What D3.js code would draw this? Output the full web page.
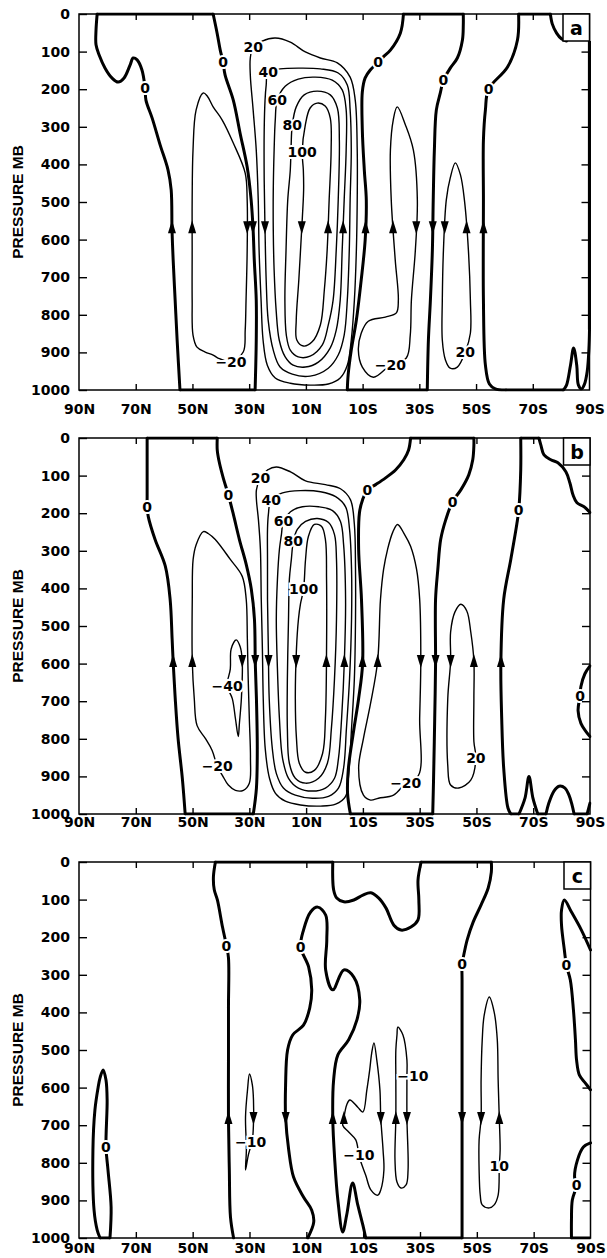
<!DOCTYPE html>
<html><head><meta charset="utf-8">
<script src="https://cdn.jsdelivr.net/npm/d3@7"></script>
<style>body{margin:0;background:#fff}</style></head>
<body><svg id="chart" width="607" height="1258"></svg>
<script>
// ---------------- data ----------------
const latTicks = [90,70,50,30,10,-10,-30,-50,-70,-90];
const latLabels = ["90N","70N","50N","30N","10N","10S","30S","50S","70S","90S"];
const pTicks = [0,100,200,300,400,500,600,700,800,900,1000];
const panelNames = ["a","b","c"];

// contours: level, closed, points [lat, pressure]
const contoursA = [
 {level:0, closed:false, pts:[[83.6,0],[84,43],[84,82],[82.9,109],[80.8,144],[78.4,170],[76.2,181],[74.1,170],[72,136],[70.9,117],[69.5,122],[67.8,149],[66.7,197],[66.4,229],[64.2,277],[61.4,348],[58.6,415],[57.5,468],[57.2,575],[56.8,654],[56.1,761],[55.4,867],[54.4,1000]]},
 {level:0, closed:false, pts:[[27.9,1000],[27.5,867],[27.5,761],[28.2,654],[28.6,575],[29.3,495],[30.7,407],[33.2,317],[35.6,229],[38.5,162],[39.2,128],[40.2,96],[41.3,51],[42.7,0]]},
 {level:0, closed:false, pts:[[-24.4,0],[-23.3,51],[-19.8,96],[-17.3,114],[-15.5,128],[-12.7,149],[-10.9,170],[-9.9,207],[-9.9,309],[-10.6,415],[-11.3,495],[-10.9,601],[-9.5,708],[-7.8,814],[-6,894],[-4.9,960],[-4.6,1000]]},
 {level:0, closed:false, pts:[[-32.8,1000],[-33.2,867],[-33.9,761],[-34.6,628],[-34.9,495],[-35.3,362],[-36,255],[-37.4,210],[-38.5,176],[-40.9,144],[-43.4,117],[-45.2,69],[-45.5,29],[-45.5,0]]},
 {level:0, closed:false, pts:[[-65,0],[-64.6,69],[-61.1,141],[-54.4,200],[-53.3,255],[-52.6,335],[-52.6,495],[-52.6,761],[-53.3,934],[-54.7,984],[-56.8,997],[-60.4,1000]]},
 {level:0, closed:false, pts:[[-80.8,1000],[-81.9,987],[-83.3,934],[-84.4,888],[-85.5,934],[-86.1,987],[-87.2,997],[-88.2,985],[-89.2,950],[-89.8,890],[-90,840]]},
 {level:0, closed:false, pts:[[-76.2,0],[-76.9,27],[-78.4,51],[-80.1,66],[-81.9,72]]},
 {level:-20, closed:true, pts:[[46.2,210],[48.7,255],[49.8,362],[50.1,495],[50.1,628],[50.1,761],[49.8,854],[48.4,886],[45.5,899],[42.7,907],[41,915],[36.4,925],[32.1,899],[31.4,841],[31.1,761],[30.7,628],[30.7,495],[31.4,423],[35.6,343],[39.5,282],[42.7,247],[44.8,218]]},
 {level:20, closed:true, pts:[[28.6,88],[25.4,72],[20.8,64],[15.5,75],[10.2,101],[4.9,117],[-1.1,130],[-5.6,168],[-7.4,229],[-8.1,362],[-8.1,495],[-7.8,628],[-7.1,761],[-6,867],[-4.6,934],[-2.1,968],[2.1,984],[8.5,987],[15.5,982],[20.8,968],[23.6,934],[25.1,867],[25.8,761],[26.5,628],[26.8,495],[27.5,362],[28.6,255],[29.6,162],[29.6,117]]},
 {level:40, closed:true, pts:[[23.3,154],[19.1,146],[12,144],[4.9,146],[-1.4,157],[-4.6,189],[-5.6,255],[-6,362],[-5.6,495],[-5.3,628],[-4.6,761],[-3.5,854],[-1.4,907],[2.1,942],[8.5,963],[14.8,958],[19.1,939],[21.5,894],[23.3,814],[24,708],[24.4,575],[24.7,442],[24.7,309],[24.4,229],[24,189]]},
 {level:60, closed:true, pts:[[20.1,229],[17.3,192],[12.7,173],[6.7,168],[0.7,176],[-2.8,202],[-4.2,255],[-4.2,362],[-3.5,495],[-2.8,628],[-2.1,761],[-0.7,841],[1.4,888],[5.6,926],[10.2,939],[14.5,934],[17.3,912],[19.4,867],[20.5,787],[21.2,681],[21.5,575],[21.5,468],[21.2,362],[20.8,282]]},
 {level:80, closed:true, pts:[[14.8,295],[13.4,247],[10.6,215],[6,205],[1.4,215],[-1.1,250],[-1.8,335],[-1.4,495],[-0.7,628],[0.4,761],[2.1,827],[4.2,880],[8.5,910],[12.7,912],[15.5,894],[16.9,854],[17.4,761],[17,628],[16.4,495],[15.5,415],[15.2,348]]},
 {level:100, closed:true, pts:[[11.3,367],[10.2,295],[8.5,250],[6,237],[3.2,245],[1.4,277],[1.1,362],[1.8,495],[2.5,628],[3.5,734],[4.9,827],[7.8,872],[10.9,883],[13.2,867],[13.4,814],[12.5,708],[11.5,575],[10.8,468],[10.9,415]]},
 {level:-20, closed:true, pts:[[-22.2,247],[-25.1,295],[-27.9,362],[-29.3,495],[-28.6,628],[-27.2,761],[-26.8,854],[-25.4,915],[-19.8,934],[-13.8,966],[-9.9,939],[-8.5,894],[-9.5,849],[-12,817],[-18,806],[-21.9,795],[-22.6,761],[-21.5,654],[-20.1,495],[-19.8,362],[-20.8,282]]},
 {level:20, closed:true, pts:[[-42.7,396],[-44.5,428],[-45.9,495],[-47.3,628],[-48,761],[-48,849],[-46.2,899],[-43.4,939],[-40.9,942],[-39.2,920],[-38.1,867],[-38.1,761],[-38.5,628],[-39.5,495],[-40.9,436]]}
];
const contoursB = [
 {level:0, closed:false, pts:[[66,0],[66,85],[66,156],[66,183],[65.6,209],[63.2,270],[59.6,341],[57.9,429],[57.2,534],[56.8,600],[56.1,693],[55.1,799],[53.6,905],[52.6,1000]]},
 {level:0, closed:false, pts:[[28.6,1000],[27.5,931],[27.2,826],[27.5,693],[27.9,600],[28.2,482],[29.3,402],[31.1,336],[33.5,270],[35.6,204],[37.4,151],[39.2,106],[40.6,64],[41.3,32],[41.3,0]]},
 {level:0, closed:false, pts:[[-26.8,0],[-26.1,32],[-24.4,58],[-21.5,85],[-18,106],[-14.5,124],[-11.6,138],[-9.9,164],[-8.8,198],[-8.5,296],[-9.5,429],[-9.9,600],[-8.5,693],[-6.7,781],[-4.9,878],[-4.6,945],[-5.6,1000]]},
 {level:0, closed:false, pts:[[-34.6,1000],[-34.9,905],[-35.3,746],[-35.6,600],[-35.6,429],[-36.4,349],[-37.4,270],[-39.2,217],[-41.6,169],[-44.5,138],[-47.3,98],[-48.7,58],[-49.1,19],[-49.1,0]]},
 {level:0, closed:false, pts:[[-65.6,0],[-65.6,85],[-64.9,191],[-64.2,230],[-62.1,323],[-59.6,429],[-58.6,600],[-58.9,746],[-59.6,878],[-61.1,984],[-62.1,1000]]},
 {level:0, closed:false, pts:[[-65,1000],[-67.1,958],[-68.5,900],[-69.9,958],[-71.6,1000]]},
 {level:0, closed:false, pts:[[-74.5,1000],[-75.5,971],[-77.3,939],[-79.1,926],[-81.2,931],[-82.6,950],[-83.6,974],[-84.4,1000]]},
 {level:0, closed:false, pts:[[-89,1000],[-90,971]]},
 {level:0, closed:false, pts:[[-72,0],[-72.7,19],[-73.8,45],[-76.2,58],[-78.7,66],[-81.5,90],[-82.9,119],[-84,151],[-85.4,172],[-87.9,183],[-90,198]]},
 {level:0, closed:false, pts:[[-90,606],[-88.2,627],[-86.8,661],[-86.5,685],[-85.8,725],[-86.8,759],[-88.6,781],[-90,794]]},
 {level:-20, closed:true, pts:[[46.2,249],[48.7,283],[49.8,323],[50.1,429],[50.1,593],[49.4,693],[48.4,765],[45.5,799],[43.1,831],[41.3,873],[39.5,897],[37.4,923],[34.9,937],[32.1,937],[30,918],[29.6,852],[30,746],[30.4,640],[30.7,534],[31.1,429],[32.5,368],[36.7,323],[42,270],[44.5,254]]},
 {level:-40, closed:true, pts:[[34.6,537],[33.2,556],[32.5,593],[32.8,693],[33.5,759],[33.9,794],[34.9,746],[36,693],[37.8,659],[36.7,614],[36.4,561]]},
 {level:20, closed:true, pts:[[26.1,106],[23.6,85],[20.5,77],[15.5,90],[10.2,114],[3.2,124],[-2.1,135],[-5.6,164],[-7,230],[-7.4,349],[-7.4,482],[-7,640],[-6,773],[-5,892],[-3.9,953],[-0.4,974],[4.9,979],[12,976],[17.3,966],[20.8,945],[22.9,905],[24.4,826],[25.1,693],[25.4,561],[25.8,429],[26.1,296],[26.8,217],[27.5,164],[27.5,138]]},
 {level:40, closed:true, pts:[[22.3,164],[18.3,146],[12,140],[4.9,143],[-0.4,156],[-3.9,183],[-5.3,243],[-6,349],[-6,482],[-5.3,640],[-4.2,773],[-3.2,878],[-1.4,931],[2.1,953],[7.8,958],[13.8,950],[18,931],[20.5,892],[21.9,826],[23,693],[23.3,561],[23.6,429],[23.6,323],[23.6,243],[23.3,204]]},
 {level:60, closed:true, pts:[[18,222],[15.5,196],[11.3,183],[5.6,183],[0.7,193],[-2.1,222],[-3.2,283],[-3.9,429],[-3.5,587],[-2.5,746],[-1.4,852],[0,905],[3.2,931],[7.8,939],[12.7,931],[16.2,905],[18.3,852],[19.4,746],[20.1,614],[20.5,482],[20.1,376],[19.4,296],[18.7,257]]},
 {level:80, closed:true, pts:[[14.5,275],[13.1,243],[10.2,222],[6,214],[2.1,225],[0,257],[-0.7,323],[-0.7,482],[0,640],[1.1,773],[2.5,865],[5.6,905],[10.2,918],[13.8,905],[15.9,865],[16.6,773],[16.6,640],[16.2,482],[15.9,376],[15.2,323]]},
 {level:100, closed:true, pts:[[10.9,402],[10.2,323],[9.2,262],[7.1,230],[4.6,235],[3.2,270],[2.8,376],[2.8,561],[3.2,746],[4.2,839],[7.1,884],[10.2,889],[12.4,865],[13.4,799],[13.8,693],[13.4,561],[12.7,482],[12,442]]},
 {level:-20, closed:true, pts:[[-22.2,230],[-24.7,257],[-26.8,288],[-28.9,349],[-30,429],[-30.4,593],[-30,746],[-29.6,897],[-25.1,918],[-20.8,950],[-15.5,958],[-12.7,963],[-10.2,950],[-8.5,878],[-10.2,799],[-12.7,706],[-15.2,593],[-16.2,429],[-17.3,349],[-18.7,296],[-20.5,251]]},
 {level:20, closed:true, pts:[[-44.5,442],[-46.6,460],[-48,516],[-49.1,593],[-49.1,693],[-49.1,807],[-49.8,852],[-48,910],[-43.8,931],[-40.9,923],[-39.9,871],[-39.9,693],[-40.9,593],[-40.9,516],[-42.4,463]]}
];
const contoursC = [
 {level:0, closed:false, pts:[[82.6,1000],[83.6,979],[84.7,926],[85.1,766],[84.4,660],[83.3,601],[82.6,574],[81.5,553],[80.5,580],[80.1,633],[80.5,758],[79.8,819],[78.7,918],[79.1,1000]]},
 {level:0, closed:false, pts:[[42,0],[42.7,40],[42.4,74],[41.3,101],[39.5,173],[38.1,223],[37.4,255],[37.4,386],[37.4,527],[37.4,686],[37.1,819],[36.7,944],[35.6,1000]]},
 {level:0, closed:false, pts:[[0.7,0],[0.4,74],[-0.7,96],[-3.2,106],[-6.7,101],[-9.9,88],[-12.7,82],[-15.5,96],[-18,122],[-20.8,168],[-23.3,181],[-26.8,173],[-29.3,154],[-29.6,101],[-29.3,48],[-30.4,0]]},
 {level:0, closed:false, pts:[[-55.1,0],[-55.1,27],[-54,69],[-51.5,114],[-48.7,160],[-46.6,207],[-45.2,255],[-44.8,271],[-44.8,314],[-44.8,500],[-44.8,686],[-44.8,1000]]},
 {level:0, closed:false, pts:[[9.5,1000],[7.4,958],[8.1,926],[11,891],[14.5,838],[16.2,766],[17.3,678],[17.3,593],[16.6,500],[14.8,460],[11,434],[8.8,388],[8.1,340],[9.2,279],[12,226],[11,181],[8.5,133],[6,120],[3.2,141],[2.8,207],[3.2,287],[0.7,340],[-3.2,287],[-6.7,306],[-8.8,367],[-7.8,420],[-4.9,473],[-1.1,513],[0.4,580],[0.7,681],[0,793],[-1.1,899],[-2.8,984],[-4.2,939],[-6.3,854],[-8.1,912],[-9.9,966],[-10.9,1000]]},
 {level:0, closed:false, pts:[[-90,234],[-86.8,181],[-83.3,133],[-80.8,101],[-79.8,128],[-79.8,168],[-80.8,234],[-81.5,274],[-82.9,314],[-84,394],[-84.7,473],[-85.1,527],[-86.1,567],[-88.2,588],[-90,606]]},
 {level:0, closed:false, pts:[[-90,747],[-87.5,758],[-85.4,793],[-84.4,838],[-85.1,859],[-83.6,899],[-83.3,952],[-83.3,1000]]},
 {level:-10, closed:true, pts:[[30,564],[30.7,606],[31.4,678],[31.1,766],[31.4,819],[30.4,779],[29,739],[28.6,694],[28.6,633],[29,593]]},
 {level:-10, closed:true, pts:[[-13.8,481],[-14.8,527],[-15.9,606],[-16.2,681],[-17,766],[-17.3,819],[-16.2,872],[-15.2,886],[-12.7,872],[-10.9,833],[-9.2,798],[-8.5,779],[-7.4,739],[-4.9,718],[-2.8,700],[-3.2,681],[-4.2,646],[-5.3,633],[-8.1,652],[-9.9,665],[-11.3,606],[-12.3,553],[-13,508]]},
 {level:-10, closed:true, pts:[[-22.2,439],[-24,460],[-25.4,527],[-25.4,572],[-25.4,681],[-25.8,819],[-25.1,859],[-23.3,867],[-21.9,851],[-21.2,793],[-21.5,681],[-21.5,580],[-21.5,500],[-21.9,460]]},
 {level:10, closed:true, pts:[[-54.4,359],[-56.1,399],[-57.2,473],[-57.5,580],[-57.9,681],[-58.2,766],[-57.9,809],[-57.5,886],[-56.1,912],[-54.4,920],[-51.9,912],[-51.2,886],[-50.8,819],[-50.8,739],[-51.5,681],[-51.5,580],[-51.9,473],[-52.6,407]]}
];

// zero contour running along the frame: [side, from, to]
const edgeA = [["top",83.6,42.7],["top",-24.4,-45.5],["top",-65,-76.2],["bottom",54.4,27.9],["bottom",-4.6,-32.8],["bottom",-60.4,-80.8],["right",72,840]];
const edgeB = [["top",66,41.3],["top",-26.8,-49.1],["top",-65.6,-72],["bottom",52.6,28.6],["bottom",-5.6,-34.6],["bottom",-62.1,-65],["bottom",-71.6,-74.5],["bottom",-84.4,-89]];
const edgeC = [["top",42,0.7],["top",-30.4,-55.1],["bottom",82.6,79.1],["bottom",-10.9,-44.8],["bottom",-83.3,-90]];

// contour labels [text, lat, p]
const labelsA = [["0",66.7,197],["0",39.2,128],["0",-15.5,128],["0",-38.5,176],["0",-54.4,200],["−20",36.4,925],["20",28.6,88],["40",23.3,154],["60",20.1,229],["80",14.8,295],["100",11.3,367],["−20",-19.8,934],["20",-46.2,899]];
const labelsB = [["0",66,183],["0",37.4,151],["0",-11.6,138],["0",-41.6,169],["0",-64.9,191],["0",-86.5,685],["−20",41.3,873],["−40",37.8,659],["20",26.1,106],["40",22.3,164],["60",18,222],["80",14.5,275],["100",10.9,402],["−20",-25.1,918],["20",-49.8,852]];
const labelsC = [["0",80.5,758],["0",38.1,223],["0",12,226],["0",-44.8,271],["0",-81.5,274],["0",-85.1,859],["−10",29.6,745],["−10",-8.5,779],["−10",-27.5,569],["10",-57.9,809]];

// flow arrows [lat, p, direction]
const arrowsA = [[57.2,567,"up"],[50.1,567,"up"],[30.7,567,"down"],[28.6,567,"down"],[24.4,567,"down"],[11.5,567,"down"],[2.5,567,"up"],[-3.5,567,"up"],[-10.9,567,"up"],[-20.5,567,"up"],[-29,567,"down"],[-34.9,567,"down"],[-39,567,"down"],[-47,567,"up"],[-52.6,567,"up"]];
const arrowsB = [[56.8,593,"up"],[50.1,593,"up"],[32.8,593,"down"],[27.9,593,"down"],[23.6,593,"down"],[14.1,593,"down"],[3.2,593,"up"],[-3.9,593,"up"],[-9.9,593,"up"],[-15.2,593,"up"],[-30.4,593,"down"],[-35.6,593,"down"],[-40.9,593,"down"],[-49.1,593,"up"],[-58.6,593,"up"]];
const arrowsC = [[37.4,681,"up"],[28.6,681,"down"],[17.3,681,"down"],[0.7,681,"up"],[-3.2,681,"up"],[-16.2,681,"down"],[-21.5,681,"up"],[-25.4,681,"down"],[-44.8,681,"down"],[-51.5,681,"down"],[-57.9,681,"up"]];

// ---------------- drawing ----------------
const svg = d3.select("#chart");
const FONT = "'DejaVu Sans', sans-serif";
const panels = [
  {name:panelNames[0], top:14,  right:589.5, pad:14, contours:contoursA, edges:edgeA, labels:labelsA, arrows:arrowsA},
  {name:panelNames[1], top:438, right:590,   pad:3,  contours:contoursB, edges:edgeB, labels:labelsB, arrows:arrowsB},
  {name:panelNames[2], top:862, right:590.5, pad:5,  contours:contoursC, edges:edgeC, labels:labelsC, arrows:arrowsC}
];
const left = 79, plotH = 376;

panels.forEach((P, i) => {
  const x = d3.scaleLinear().domain([90,-90]).range([left, P.right]);
  const y = d3.scaleLinear().domain([0,1000]).range([P.top, P.top + plotH]);
  const g = svg.append("g");
  const clipId = "clip" + i;
  svg.append("clipPath").attr("id", clipId).append("rect")
    .attr("x", left - 1.5).attr("y", P.top - 1.5)
    .attr("width", P.right - left + 3).attr("height", plotH + 3);

  const cg = g.append("g").attr("clip-path", `url(#${clipId})`);
  const lineOpen = d3.line().x(d => x(d[0])).y(d => y(d[1])).curve(d3.curveCatmullRom.alpha(0.5));
  const lineClosed = d3.line().x(d => x(d[0])).y(d => y(d[1])).curve(d3.curveCatmullRomClosed.alpha(0.5));

  cg.selectAll("path.ct").data(P.contours).join("path")
    .attr("class","ct")
    .attr("d", c => (c.closed ? lineClosed : lineOpen)(c.pts))
    .attr("fill","none").attr("stroke","#000")
    .attr("stroke-width", c => c.level === 0 ? 3.0 : 1.4)
    .attr("stroke-linejoin","round").attr("stroke-linecap","round");

  cg.selectAll("line.edge").data(P.edges).join("line")
    .attr("class","edge")
    .attr("x1", e => e[0] === "right" ? x(-90) : x(e[1]))
    .attr("x2", e => e[0] === "right" ? x(-90) : x(e[2]))
    .attr("y1", e => e[0] === "top" ? y(0) : e[0] === "bottom" ? y(1000) : y(e[1]))
    .attr("y2", e => e[0] === "top" ? y(0) : e[0] === "bottom" ? y(1000) : y(e[2]))
    .attr("stroke","#000").attr("stroke-width",3.2);

  function snap(lat, p) {
    let best = lat, bd = 4;
    P.contours.forEach(c => {
      const pts = c.closed ? c.pts.concat([c.pts[0]]) : c.pts;
      for (let k = 0; k < pts.length - 1; k++) {
        const a = pts[k], b = pts[k+1];
        if ((a[1] - p) * (b[1] - p) <= 0 && a[1] !== b[1]) {
          const t = (p - a[1]) / (b[1] - a[1]);
          const l = a[0] + t * (b[0] - a[0]);
          if (Math.abs(l - lat) < bd) { bd = Math.abs(l - lat); best = l; }
        }
      }
    });
    return best;
  }
  g.selectAll("path.arrow").data(P.arrows).join("path")
    .attr("class","arrow")
    .attr("d", a => {
      const cx = x(snap(a[0], a[1])), cy = y(a[1]);
      return a[2] === "up"
        ? `M${cx},${cy-7}L${cx+4},${cy+6}L${cx-4},${cy+6}Z`
        : `M${cx},${cy+7}L${cx+4},${cy-6}L${cx-4},${cy-6}Z`;
    })
    .attr("fill","#000");

  g.selectAll("text.cl").data(P.labels).join("text")
    .attr("class","cl")
    .attr("x", d => x(d[1])).attr("y", d => y(d[2]))
    .attr("text-anchor","middle").attr("dominant-baseline","central")
    .attr("font-family", FONT).attr("font-weight","bold").attr("font-size", 14)
    .attr("fill","#000").attr("stroke","#fff").attr("stroke-width",4)
    .attr("paint-order","stroke")
    .text(d => d[0]);

  g.append("rect").attr("x", left).attr("y", P.top)
    .attr("width", P.right - left).attr("height", plotH)
    .attr("fill","none").attr("stroke","#000").attr("stroke-width",1.5);

  const styleAxis = sel => {
    sel.select(".domain").remove();
    sel.selectAll(".tick line").attr("stroke","#000").attr("stroke-width",1.4);
    sel.attr("font-family", FONT).attr("font-size", 14).attr("font-weight","bold");
    sel.selectAll("text").attr("fill","#000");
  };
  const inner = latTicks.slice(1, -1);
  g.append("g").attr("transform", `translate(${left},0)`)
    .call(d3.axisLeft(y).tickValues(pTicks).tickFormat(d3.format("d")).tickSizeInner(-8).tickSizeOuter(0).tickPadding(9))
    .call(styleAxis);
  g.append("g").attr("transform", `translate(${P.right},0)`)
    .call(d3.axisRight(y).tickValues(pTicks.slice(1,-1)).tickSizeInner(-8).tickSizeOuter(0).tickFormat(""))
    .call(styleAxis);
  g.append("g").attr("transform", `translate(0,${P.top})`)
    .call(d3.axisTop(x).tickValues(inner).tickSizeInner(-6).tickSizeOuter(0).tickFormat(""))
    .call(styleAxis);
  const bx = g.append("g").attr("transform", `translate(0,${P.top + plotH})`)
    .call(d3.axisBottom(x).tickValues(latTicks).tickSizeInner(-6).tickSizeOuter(0).tickPadding(P.pad)
      .tickFormat((d, k) => latLabels[k]))
    .call(styleAxis);
  bx.selectAll(".tick").filter(d => d === 90 || d === -90).select("line").remove();

  g.append("text")
    .attr("transform", `translate(17.5,${y(500)}) rotate(-90)`)
    .attr("text-anchor","middle").attr("dominant-baseline","central")
    .attr("font-family","'Liberation Sans', Arial, sans-serif").attr("font-weight","bold")
    .attr("font-size",15.5).attr("fill","#000")
    .text("PRESSURE MB");

  g.append("rect").attr("x", P.right - 26.5).attr("y", P.top)
    .attr("width", 26.5).attr("height", 27)
    .attr("fill","#fff").attr("stroke","#000").attr("stroke-width",1.5);
  g.append("text").attr("x", P.right - 13).attr("y", P.top + 14)
    .attr("text-anchor","middle").attr("dominant-baseline","central")
    .attr("font-family", FONT).attr("font-weight","bold").attr("font-size",19)
    .attr("fill","#000").text(P.name);
});
</script></body></html>
